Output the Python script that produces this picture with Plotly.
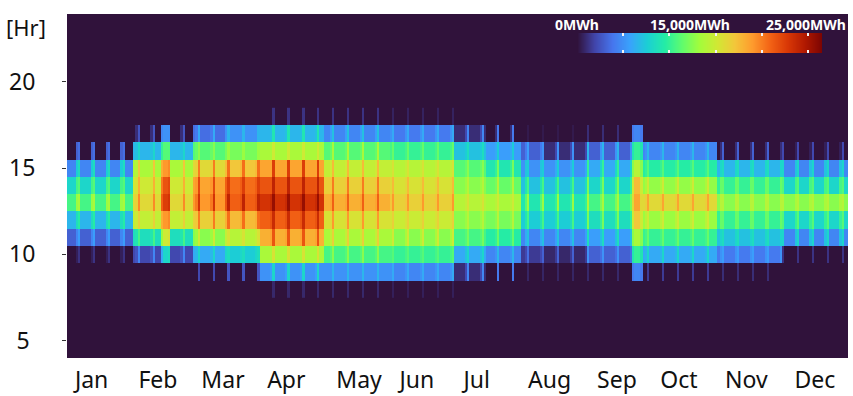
import numpy as np
import plotly.graph_objects as go

months = ["Jan","Feb","Mar","Apr","May","Jun","Jul","Aug","Sep","Oct","Nov","Dec"]
month_ticks = [11,42,72.4,102,136,163,191,225,256.5,285.5,317,349]
hours = [8,9,10,11,12,13,14,15,16,17,18]
n_days = 365
sundays = list(range(5,365,7))

# thousand MWh by hour (8..18); each block starts on the given day of year
block_start = [0,31,59,74,90,120,151,181,196,212,222,243,269,304,334]
weekday = [
 [0,0,0,3,6.5,10.5,8,4.5,0,0,0],
 [0,0,2,8.5,14.5,16,15,13.5,6.5,0,0],
 [0,0,6,12.5,16.5,19,18.5,16,11,3.5,0],
 [0,0,7.5,14,17.5,21,20.5,17,12,5,0],
 [0,5,13.5,18,21,23,21.5,18.5,13.5,6.5,0],
 [0,5,10.5,13.5,15.5,18,16.5,14.5,11,4.5,0],
 [0,4.5,10,12.5,14.8,16.5,15.5,14,10,4,0],
 [0,1,6,10.5,12.5,14,12.5,11,7,1,0],
 [0,0,4.5,9.5,12,13.5,11.5,9,5.5,0,0],
 [0,0,1.5,4.5,7.5,9,7,5,3,0,0],
 [0,0,0.8,4.5,7.5,9,7,5,1,0,0],
 [0,0,3,5.5,8.5,10.5,8,6,3,0,0],
 [0,0,6,10,13,16,12.8,9.5,4.5,0,0],
 [0,0,4,7,10,12.5,10,6.5,0,0,0],
 [0,0,0,4.5,8,12.5,8,4.5,0,0,0],
]
saturday = [
 [0,0,0.5,4.5,8.5,13,10.5,7.5,3,0,0],
 [0,0,2.5,9,15,16.5,15.5,14,7,1,0],
 [0,0,6.5,13,17,20,19,16.5,11.5,4,0],
 [0,0,8,14.5,18,21.5,21,17.5,12,5,0],
 [0,5.5,13.5,18.5,21.5,23.5,21.5,18.5,13.5,7,0],
 [0,5,11,14.5,16,18.5,17,15,11.5,5.5,0],
 [0,5,10.5,13.5,15.5,17,16,14.5,10.5,5,0],
 [0,2,7,11,13,14.5,13,11.5,7.5,2,0],
 [0,0,5,10,12.5,14,12,10,6,1,0],
 [0,0,2,6,9,11,9,7,4,0,0],
 [0,0,1.5,5.5,8.5,10,8.5,6,2,0,0],
 [0,0,3.5,7,10,12,10,8,5,0,0],
 [0,0,6.5,10.5,14,16.5,13.5,10,5,0,0],
 [0,0,5,8,11.5,14,11.5,8,1,0,0],
 [0,0,0,7,10,13.5,10.5,7,0.5,0,0],
]
sunday = [
 [0,0,1.2,5.5,9.5,13.5,11,8.5,3.5,0,0],
 [0,0,4.5,10.5,16.5,19.5,18,17,8,2.5,0],
 [0,2,8,15,20,23,22,20,12.5,6,0],
 [0,2.5,8.5,15.5,20.5,24,22.5,20.5,13,6.5,0],
 [0.8,8,15.5,21.5,23.5,25.5,24,22.5,15,9,1.2],
 [0.8,6.5,12.5,16.5,19,21,20,17.5,13.5,7,1.2],
 [0.5,6,11,15,16.5,19,17.5,15.5,11.5,6,0.6],
 [0,4.5,8,12,14,15.5,14,12.5,8.5,4.5,0],
 [0,4,6.5,11.5,14,15,14,12,7.5,4,0],
 [0,0.7,3.5,7,10.5,13,10.5,7.5,5.5,0.3,0],
 [0,0.7,3,7,10.5,13,10.5,7.5,5,0.3,0],
 [0,0.8,5,8.5,12,13.5,12,10,6.5,1,0],
 [0,1.5,8,11.5,15,18.5,15,11,6.5,0,0],
 [0,1,5.5,8.5,11.5,14,11.5,8.5,3,0,0],
 [0,0,1.2,8,11,14,11,8,2,0,0],
]
special_days = [44,45,46,47,264,265,266,267,268]
special_values = [
 [0,0,6,13,18,21,20,18,10,4.5,0],
 [0,0,8,15,19,22.5,21.5,19,11,5,0],
 [0,0,8,15,19,22.5,21.5,19,11,5,0],
 [0,0,8.5,15.5,19.5,23,22,19.5,11,5,0],
 [0,4,9,12.5,15,16,15,12.5,9,4,0],
 [0,4.5,10,13.5,17,18.5,17.5,14,10,4.5,0],
 [0,4.5,10,13.5,17,18.5,17.5,14,10,4.5,0],
 [0,4.5,10,13.5,17,18.5,17.5,14,10,4.5,0],
 [0,4,9,12.5,15,16,15,12.5,9,4,0],
]

z = np.zeros((len(hours), n_days))
for d in range(n_days):
    b = int(np.searchsorted(block_start, d, side="right")) - 1
    if d in sundays:
        z[:, d] = sunday[b]
    elif d + 1 in sundays:
        z[:, d] = saturday[b]
    else:
        z[:, d] = weekday[b]
for d, v in zip(special_days, special_values):
    z[:, d] = v
z = z * 1000

scale_ramp = np.linspace(0, 26500, 246)
scale_ticks = [0, 5000, 10000, 15000, 20000, 25000]
scale_labels = ["0MWh", "15,000MWh", "25,000MWh"]

fig = go.Figure()
fig.add_trace(go.Heatmap(z=z, x=list(range(n_days)), y=hours, colorscale="Turbo",
                         zmin=0, zmax=26500, showscale=False, hoverinfo="skip"))
fig.add_trace(go.Heatmap(z=[scale_ramp], x=scale_ramp, y=[0], xaxis="x2", yaxis="y2",
                         colorscale="Turbo", zmin=0, zmax=26500, showscale=False, hoverinfo="skip"))

W, H = 853, 396
L, R, T, B = 67, 848, 14, 358
font = "Noto Sans"
fig.update_layout(
    width=W, height=H, autosize=False,
    margin=dict(l=L, r=W-R, t=T, b=H-B, pad=0),
    paper_bgcolor="white", plot_bgcolor="#30123b",
    font=dict(family=font, size=23, color="#111"),
    showlegend=False,
    xaxis=dict(range=[-0.5, 364.5], tickvals=month_ticks, ticktext=months, ticks="",
               showgrid=False, zeroline=False, showline=False, tickfont=dict(size=23),
               ticklabelstandoff=6, automargin=False),
    yaxis=dict(range=[3.99, 23.94], tickvals=[5,10,15,20], ticktext=["5\u2005","10","15","20"],
               ticks="outside", ticklen=4, ticklabelstandoff=22, automargin=False,
               tickcolor="#333", tickwidth=1, showgrid=False, zeroline=False, showline=False,
               tickfont=dict(size=23)),
    xaxis2=dict(domain=[(577-L)/(R-L), (822-L)/(R-L)], range=[0, 26500], anchor="y2",
                tickvals=scale_ticks, ticks="inside", ticklen=3, tickcolor="#f4f4f4", tickwidth=2,
                mirror="ticks", showticklabels=False, showgrid=False, zeroline=False, automargin=False),
    yaxis2=dict(domain=[(B-53)/(B-T), (B-33)/(B-T)], range=[-0.5, 0.5], anchor="x2",
                showticklabels=False, ticks="", showgrid=False, zeroline=False, automargin=False),
    annotations=[
        dict(text=scale_labels[0], x=(577-L)/(R-L), y=(B-25)/(B-T)),
        dict(text=scale_labels[1], x=(690-L)/(R-L), y=(B-25)/(B-T)),
        dict(text=scale_labels[2], x=(806-L)/(R-L), y=(B-25)/(B-T)),
        dict(text="[Hr]", x=(26-L)/(R-L), y=(B-27)/(B-T), font=dict(size=22, color="#111")),
    ],
)
for a in fig.layout.annotations[:3]:
    a.font = dict(size=14, color="white", family=font, weight="bold")
for a in fig.layout.annotations:
    a.update(xref="paper", yref="paper", showarrow=False, xanchor="center", yanchor="middle")

fig.write_html("out.html", config={"displayModeBar": False},
               post_script="document.body.style.margin='0';")
